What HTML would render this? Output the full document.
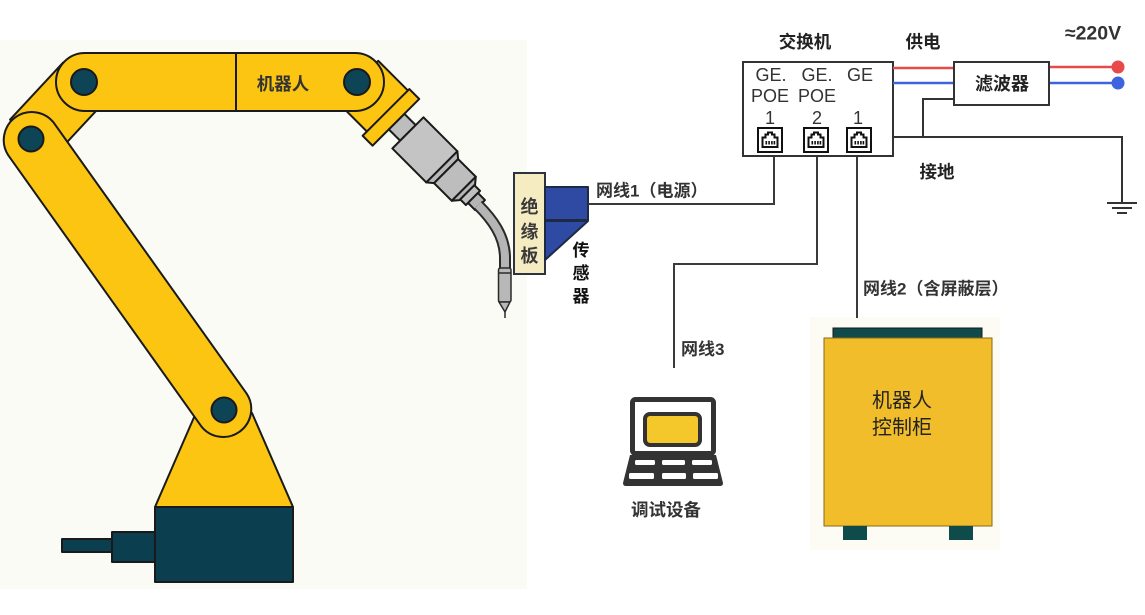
<!DOCTYPE html>
<html><head><meta charset="utf-8"><style>
html,body{margin:0;padding:0;background:#fff;}
svg{display:block;}
.cn{font-family:"Liberation Sans","Noto Sans CJK SC",sans-serif;}
</style></head><body>
<svg width="1145" height="615" viewBox="0 0 1145 615" xmlns="http://www.w3.org/2000/svg">
<rect x="0" y="0" width="1145" height="615" fill="#ffffff"/>
<!-- robot background -->
<rect x="0" y="40" width="527" height="549" fill="#fbfbf5"/>
<!-- cabinet background -->
<rect x="810" y="317" width="190" height="233" fill="#fcfbf4"/>

<!-- ROBOT -->
<g stroke="#1a1a1a" stroke-width="2" stroke-linejoin="round">
  <!-- base trapezoid -->
  <polygon points="195,415 252,413 293,507 155,507" fill="#fbc512"/>
  <!-- base block -->
  <rect x="62" y="539" width="50" height="13" fill="#0b3f50"/>
  <rect x="112" y="532" width="43" height="30" fill="#0b3f50"/>
  <rect x="155" y="507" width="138" height="75" fill="#0b3f50"/>
  <!-- shoulder link -->
  <polygon points="104.9,101.4 63.1,62.6 10.1,119.6 51.9,158.4" fill="#fbc512"/>
  <!-- lower arm -->
  <path d="M53.8,122.8 L246.8,393.8 A28,28 0 0 1 201.2,426.2 L8.2,155.2 A28,28 0 0 1 53.8,122.8 Z" fill="#fbc512"/>
  <circle cx="224" cy="410" r="12.5" fill="#0d4456"/>
  <circle cx="31" cy="139" r="12.5" fill="#0d4456"/>
  <!-- wrist + torch in rotated frame -->
  <g transform="translate(357,82) rotate(45)">
    <rect x="0" y="-30" width="44" height="58" fill="#fbc512"/>
    <rect x="56" y="-11" width="16" height="22" fill="#bdbdbd"/>
    <rect x="72" y="-22" width="48" height="44" fill="#c4c4c4"/>
    <polygon points="120,-22 126,-17 126,17 120,22" fill="#b8b8b8"/>
    <rect x="126" y="-17" width="25" height="34" fill="#bdbdbd"/>
    <polygon points="151,-17 156,-11 156,11 151,17" fill="#b5b5b5"/>
    <rect x="156" y="-10" width="8" height="20" fill="#c0c0c0"/>
    <rect x="164" y="-7" width="10" height="14" fill="#b5b5b5"/>
    <rect x="42" y="-32" width="14" height="66" fill="#fbc512"/>
  </g>
  <!-- upper arm -->
  <rect x="56" y="53" width="328" height="58" rx="29" fill="#fbc512"/>
  <line x1="236" y1="53" x2="236" y2="111"/>
  <circle cx="84" cy="82" r="13" fill="#0d4456"/>
  <circle cx="357" cy="82" r="13" fill="#0d4456"/>
</g>
<!-- gooseneck -->
<path d="M478,205 C492,219 505,236 505,258 L505,270" fill="none" stroke="#2a2a2a" stroke-width="12"/>
<path d="M478,205 C492,219 505,236 505,258 L505,270" fill="none" stroke="#b5b5b5" stroke-width="8"/>
<g stroke="#2a2a2a" stroke-width="1.5">
  <rect x="498.5" y="268" width="12.5" height="34" rx="2" fill="#b8b8b8"/>
  <line x1="499" y1="273" x2="511" y2="273"/>
  <polygon points="499,302 510,302 505,312" fill="#b8b8b8"/>
  <line x1="505" y1="312" x2="505" y2="318"/>
</g>
<text x="283" y="90" class="cn" font-size="17.5" font-weight="bold" fill="#333" text-anchor="middle">机器人</text>

<!-- insulation board & sensor -->
<rect x="514" y="173" width="31" height="101" fill="#f5ecc2" stroke="#2d3340" stroke-width="2"/>
<g class="cn" font-size="18" font-weight="bold" fill="#3a3a3a" text-anchor="middle">
  <text x="529.5" y="213">绝</text>
  <text x="529.5" y="238">缘</text>
  <text x="529.5" y="262">板</text>
</g>
<g stroke="#1e2a44" stroke-width="2" stroke-linejoin="round">
  <rect x="545" y="187" width="43" height="33" fill="#2f4aa3"/>
  <polygon points="545,221 588,221 545,260" fill="#2f4aa3"/>
</g>
<g class="cn" font-size="17" font-weight="bold" fill="#111" text-anchor="middle">
  <text x="581" y="256">传</text>
  <text x="581" y="279">感</text>
  <text x="581" y="302">器</text>
</g>

<!-- cable lines -->
<g fill="none" stroke="#3a3a3a" stroke-width="2">
  <polyline points="588,204 774,204 774,156"/>
  <polyline points="817,156 817,264 674,264 674,368"/>
  <polyline points="857,156 857,318"/>
</g>
<text x="596" y="196.5" class="cn" font-size="17" font-weight="bold" fill="#333">网线1（电源）</text>
<text x="681" y="355" class="cn" font-size="17" font-weight="bold" fill="#333">网线3</text>
<text x="863" y="294.5" class="cn" font-size="17" font-weight="bold" fill="#333">网线2（含屏蔽层）</text>

<!-- switch -->
<text x="805" y="48" class="cn" font-size="17.5" font-weight="bold" fill="#222" text-anchor="middle">交换机</text>
<rect x="743" y="62" width="150" height="94" fill="#fff" stroke="#333" stroke-width="2"/>
<g font-family="Liberation Sans, DejaVu Sans, sans-serif" font-size="18" fill="#333" text-anchor="middle">
  <text x="771" y="81">GE.</text>
  <text x="817" y="81">GE.</text>
  <text x="860" y="81">GE</text>
  <text x="770" y="102">POE</text>
  <text x="817" y="102">POE</text>
  <text x="770" y="124">1</text>
  <text x="817" y="124">2</text>
  <text x="858" y="124">1</text>
</g>
<g transform="translate(757,127)">
  <rect x="1" y="1" width="24" height="24" fill="#fff" stroke="#111" stroke-width="2"/>
  <path d="M5.5,20 L5.5,10.5 L8.5,10.5 L8.5,7.5 L11,7.5 L11,5.5 L15,5.5 L15,7.5 L17.5,7.5 L17.5,10.5 L20.5,10.5 L20.5,20 Z" fill="none" stroke="#111" stroke-width="2"/>
  <g fill="#111"><rect x="8.5" y="14" width="1.6" height="3.5"/><rect x="11.3" y="14" width="1.6" height="3.5"/><rect x="14.1" y="14" width="1.6" height="3.5"/><rect x="16.6" y="14" width="1.6" height="3.5"/></g>
</g>
<g transform="translate(803,127)">
  <rect x="1" y="1" width="24" height="24" fill="#fff" stroke="#111" stroke-width="2"/>
  <path d="M5.5,20 L5.5,10.5 L8.5,10.5 L8.5,7.5 L11,7.5 L11,5.5 L15,5.5 L15,7.5 L17.5,7.5 L17.5,10.5 L20.5,10.5 L20.5,20 Z" fill="none" stroke="#111" stroke-width="2"/>
  <g fill="#111"><rect x="8.5" y="14" width="1.6" height="3.5"/><rect x="11.3" y="14" width="1.6" height="3.5"/><rect x="14.1" y="14" width="1.6" height="3.5"/><rect x="16.6" y="14" width="1.6" height="3.5"/></g>
</g>
<g transform="translate(846,127)">
  <rect x="1" y="1" width="24" height="24" fill="#fff" stroke="#111" stroke-width="2"/>
  <path d="M5.5,20 L5.5,10.5 L8.5,10.5 L8.5,7.5 L11,7.5 L11,5.5 L15,5.5 L15,7.5 L17.5,7.5 L17.5,10.5 L20.5,10.5 L20.5,20 Z" fill="none" stroke="#111" stroke-width="2"/>
  <g fill="#111"><rect x="8.5" y="14" width="1.6" height="3.5"/><rect x="11.3" y="14" width="1.6" height="3.5"/><rect x="14.1" y="14" width="1.6" height="3.5"/><rect x="16.6" y="14" width="1.6" height="3.5"/></g>
</g>

<!-- power -->
<text x="923" y="48" class="cn" font-size="17.5" font-weight="bold" fill="#222" text-anchor="middle">供电</text>
<text x="1093" y="39.5" class="cn" font-size="19.5" font-weight="bold" fill="#333" text-anchor="middle">≈220V</text>
<g stroke-width="2.5">
  <line x1="893" y1="68" x2="954" y2="68" stroke="#e84a4a"/>
  <line x1="893" y1="83" x2="954" y2="83" stroke="#3d63e0"/>
  <line x1="1049" y1="67" x2="1118" y2="67" stroke="#e84a4a"/>
  <line x1="1049" y1="83" x2="1118" y2="83" stroke="#3d63e0"/>
</g>
<circle cx="1118" cy="67" r="6.5" fill="#e84a4a"/>
<circle cx="1118" cy="83" r="6.5" fill="#3d63e0"/>
<rect x="954" y="62" width="95" height="43" fill="#fff" stroke="#333" stroke-width="2"/>
<text x="1002" y="90" class="cn" font-size="18" font-weight="bold" fill="#222" text-anchor="middle">滤波器</text>

<!-- ground -->
<g fill="none" stroke="#333" stroke-width="2">
  <polyline points="893,137 1122,137 1122,203"/>
  <polyline points="954,99 923,99 923,137"/>
  <line x1="1107" y1="203" x2="1137" y2="203"/>
  <line x1="1112" y1="208" x2="1132" y2="208"/>
  <line x1="1117" y1="213" x2="1127" y2="213"/>
</g>
<text x="937" y="178" class="cn" font-size="17.5" font-weight="bold" fill="#222" text-anchor="middle">接地</text>

<!-- laptop -->
<rect x="632.5" y="399.5" width="81" height="54" rx="3" fill="#fff" stroke="#333" stroke-width="5"/>
<rect x="645" y="414" width="55" height="31" rx="5" fill="#f4c82a" stroke="#333" stroke-width="4"/>
<path d="M630,455 L716,455 L723,483 Q723,486 720,486 L626,486 Q623,486 623,483 Z" fill="#333"/>
<g fill="#fff">
  <rect x="635" y="460" width="20" height="5" rx="1.5"/>
  <rect x="662" y="460" width="23" height="5" rx="1.5"/>
  <rect x="692" y="460" width="20" height="5" rx="1.5"/>
  <rect x="629" y="473" width="25" height="6" rx="1.5"/>
  <rect x="662" y="473" width="24" height="6" rx="1.5"/>
  <rect x="693" y="473" width="25" height="6" rx="1.5"/>
</g>
<text x="666" y="516" class="cn" font-size="17.5" font-weight="bold" fill="#333" text-anchor="middle">调试设备</text>

<!-- cabinet -->
<rect x="833" y="328" width="149" height="11" fill="#0e4b4a" stroke="#1a1a1a" stroke-width="1"/>
<rect x="824" y="338" width="168" height="188" fill="#f1bd2a" stroke="#8a6a18" stroke-width="1"/>
<rect x="843" y="526" width="24" height="14" fill="#0e4b4a"/>
<rect x="949" y="526" width="24" height="14" fill="#0e4b4a"/>
<g class="cn" font-size="20" fill="#222" text-anchor="middle">
  <text x="902" y="407">机器人</text>
  <text x="902" y="434">控制柜</text>
</g>
</svg>
</body></html>
